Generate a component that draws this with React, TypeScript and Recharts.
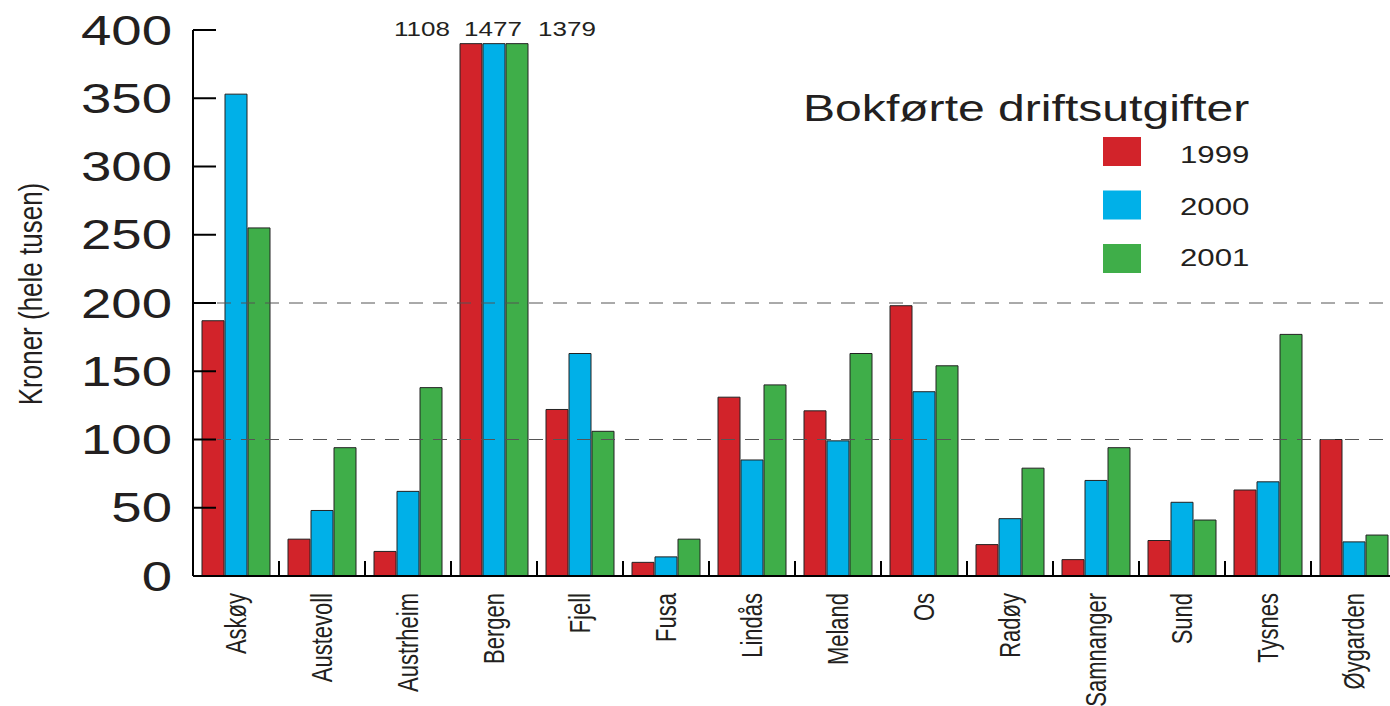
import React from 'react'
import { BarChart, Bar, XAxis, YAxis, ReferenceLine, Legend, LabelList } from 'recharts'

const categories = ['Askøy', 'Austevoll', 'Austrheim', 'Bergen', 'Fjell', 'Fusa', 'Lindås', 'Meland', 'Os', 'Radøy', 'Samnanger', 'Sund', 'Tysnes', 'Øygarden']
const values1999 = [187, 27, 18, 1108, 122, 10, 131, 121, 198, 23, 12, 26, 63, 100]
const values2000 = [353, 48, 62, 1477, 163, 14, 85, 99, 135, 42, 70, 54, 69, 25]
const values2001 = [255, 94, 138, 1379, 106, 27, 140, 163, 154, 79, 94, 41, 177, 30]
const yTicks = [0, 50, 100, 150, 200, 250, 300, 350, 400]

// bars above this are cut off and get their real value written on top
const CAP = 390

const data = categories.map((name, i) => ({
    name,
    y1999: Math.min(values1999[i], CAP),
    y2000: Math.min(values2000[i], CAP),
    y2001: Math.min(values2001[i], CAP),
}))

const FONT = '"Liberation Sans", Arial, Helvetica, sans-serif'
const INK = '#231f20'
const SX = 1.3 // the original artwork is stretched sideways

const YTick = (props: any) => {
    const { x, y, payload } = props
    return (
        <g>
            {payload.value !== 0 && (
                <line x1={x} x2={x + 23} y1={y} y2={y} stroke="#000" strokeWidth={2} />
            )}
            <g transform={`translate(${x - 21},${y}) scale(${SX},1)`}>
                <text textAnchor="end" dominantBaseline="central" fontSize={42} fontFamily={FONT} fill={INK}>
                    {payload.value}
                </text>
            </g>
        </g>
    )
}

const XTick = (props: any) => {
    const { x, y, payload, index } = props
    return (
        <g>
            {index > 0 && (
                <line x1={x - 43} x2={x - 43} y1={y - 15} y2={y} stroke="#000" strokeWidth={2} />
            )}
            <g transform={`translate(${x},${y + 17}) scale(${SX},1) rotate(-90)`}>
                <text textAnchor="end" dominantBaseline="central" fontSize={22} fontFamily={FONT} fill={INK}>
                    {payload.value}
                </text>
            </g>
        </g>
    )
}

const overflowLabel = (raw: number[], dx: number) => (props: any) => {
    const { x, y, width, index } = props
    if (raw[index] <= CAP) return null
    return (
        <g transform={`translate(${x + width / 2 + dx},${y - 15}) scale(${SX},1)`}>
            <text textAnchor="middle" dominantBaseline="central" fontSize={20} fontFamily={FONT} fill={INK}>
                {raw[index]}
            </text>
        </g>
    )
}

const LegendBox = (props: any) => {
    const { payload } = props
    return (
        <svg width={1400} height={706} style={{ overflow: 'visible' }}>
            <g transform={`translate(803,121) scale(${SX},1)`}>
                <text fontSize={37} fontFamily={FONT} fill={INK}>Bokførte driftsutgifter</text>
            </g>
            {(payload || []).map((p: any, i: number) => (
                <g key={p.value}>
                    <rect x={1103} y={137 + i * 53.5} width={38} height={29} fill={p.color} />
                    <g transform={`translate(1180,${155 + i * 51.5}) scale(${SX},1)`}>
                        <text dominantBaseline="central" fontSize={24} fontFamily={FONT} fill={INK}>{p.value}</text>
                    </g>
                </g>
            ))}
        </svg>
    )
}

const App = () => {
    return (
        <div style={{ position: 'absolute', left: 0, top: 0, width: 1390, height: 706, overflow: 'hidden', background: '#fff' }}>
            <BarChart
                width={1400}
                height={706}
                data={data}
                margin={{ top: 30, right: 3, bottom: 0, left: 0 }}
                barSize={22}
                barGap={1}
            >
                <XAxis
                    dataKey="name"
                    height={130}
                    interval={0}
                    tickSize={0}
                    tickMargin={0}
                    tickLine={false}
                    axisLine={{ stroke: '#000', strokeWidth: 2 }}
                    tick={<XTick />}
                />
                <YAxis
                    width={193}
                    domain={[0, 400]}
                    ticks={yTicks}
                    tickSize={0}
                    tickMargin={0}
                    tickLine={false}
                    axisLine={{ stroke: '#000', strokeWidth: 2 }}
                    tick={<YTick />}
                    label={{
                        content: () => (
                            <g transform={`translate(30,294) scale(${SX},1) rotate(-90)`}>
                                <text textAnchor="middle" dominantBaseline="central" fontSize={26} fontFamily={FONT} fill={INK}>
                                    Kroner (hele tusen)
                                </text>
                            </g>
                        ),
                    }}
                />
                <ReferenceLine y={100} stroke="#555" strokeDasharray="14 10" />
                <ReferenceLine y={200} stroke="#555" strokeDasharray="14 10" />
                <Legend layout="horizontal" verticalAlign="middle" align="center" content={<LegendBox />}
                    wrapperStyle={{ position: 'absolute', left: 0, top: 0, width: 1400, height: 706, pointerEvents: 'none' }} />
                <Bar dataKey="y1999" name="1999" fill="#d2232a" stroke="#222" strokeWidth={1} isAnimationActive={false}>
                    <LabelList content={overflowLabel(values1999, -49)} />
                </Bar>
                <Bar dataKey="y2000" name="2000" fill="#00b0e8" stroke="#222" strokeWidth={1} isAnimationActive={false}>
                    <LabelList content={overflowLabel(values2000, -1)} />
                </Bar>
                <Bar dataKey="y2001" name="2001" fill="#3fae49" stroke="#222" strokeWidth={1} isAnimationActive={false}>
                    <LabelList content={overflowLabel(values2001, 50)} />
                </Bar>
            </BarChart>
        </div>
    )
}

export default App
